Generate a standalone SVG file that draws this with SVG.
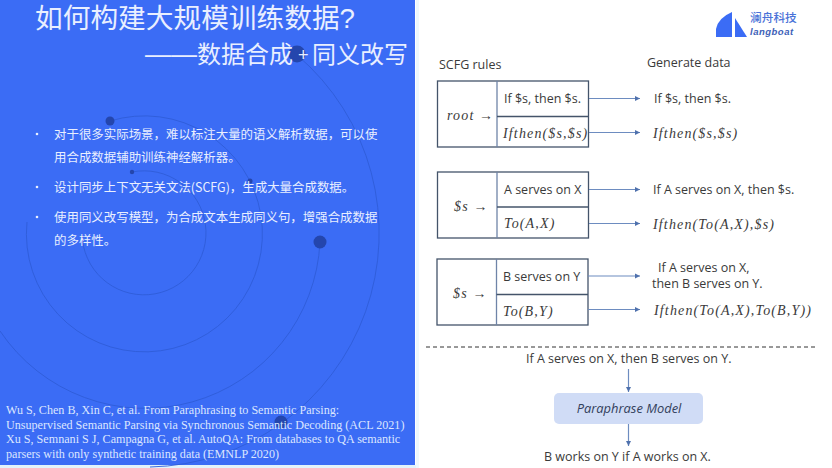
<svg xmlns="http://www.w3.org/2000/svg" width="832" height="468" viewBox="0 0 832 468">
<defs>
<marker id="ah" markerWidth="6" markerHeight="6" refX="5" refY="3" orient="auto" markerUnits="userSpaceOnUse"><path d="M0 0.5L5 3L0 5.5Z" fill="#4f71ad"/></marker>
</defs>
<style>
.cjk{font-family:"Noto Sans CJK SC","Noto Sans",sans-serif;fill:#e9efff}
.ttl{font-family:"Liberation Sans","Noto Sans CJK SC",sans-serif;fill:#e9efff}
.ref{font-family:"Liberation Serif",serif;font-size:12.12px;fill:#dbe6ff}
.t{font-family:"Open Sans","Noto Sans",sans-serif;font-size:12.5px;fill:#3a3a3a}
.m{font-family:"Liberation Serif",serif;font-style:italic;font-size:14px;fill:#3a3a3a;letter-spacing:1.15px}
.box{fill:none;stroke:#44546a;stroke-width:1.3}
.div{fill:none;stroke:#6f84a8;stroke-width:1.3}
.ln{fill:none;stroke:#6d8cc0;stroke-width:1.2;marker-end:url(#ah)}
.orb{fill:none;stroke:#2f5cd8;stroke-width:.9}
.dot{fill:#2446ad}
</style>
<rect width="832" height="468" fill="#fff"/>
<rect x="416" width="3" height="468" fill="#eef8fd"/>
<rect y="465" width="416" height="3" fill="#e3f3fb"/>
<rect width="415" height="465" fill="#3b6cf5"/>
<g id="orbits">
<path class="orb" d="M132 172A62 62 0 1 1 82 234"/>
<path class="orb" d="M110 121A118 118 0 1 1 27 222"/>
<path class="orb" d="M320 242A175 175 0 0 1 0 331"/>
<path class="orb" d="M297 55A234 234 0 0 1 150 467"/>
<circle class="dot" cx="132" cy="172" r="2.2"/>
<circle class="dot" cx="110" cy="121" r="4.5"/>
<circle class="dot" cx="250" cy="181" r="2.5"/>
<circle class="dot" cx="320" cy="242" r="6.5"/>
<circle class="dot" cx="297" cy="54" r="8.5"/>
<circle class="dot" cx="281" cy="422" r="6.5"/>
</g>
<g id="title">
<text class="ttl" x="35" y="28" font-size="27.7">如何构建大规模训练数据?</text>
<text class="ttl" font-size="24"><tspan x="145" y="63" font-size="26">——</tspan><tspan x="197" y="63">数据合成</tspan><tspan x="298" y="61" font-size="18">+</tspan><tspan x="312" y="63">同义改写</tspan></text>
</g>
<g id="bullets" font-size="12.45">
<circle cx="37" cy="134" r="1.3" fill="#e9efff"/>
<circle cx="37" cy="187" r="1.3" fill="#e9efff"/>
<circle cx="37" cy="217" r="1.3" fill="#e9efff"/>
<text class="cjk" x="54" y="139">对于很多实际场景，难以标注大量的语义解析数据，可以使</text>
<text class="cjk" x="54" y="162">用合成数据辅助训练神经解析器。</text>
<text class="cjk" x="54" y="192">设计同步上下文无关文法(SCFG)，生成大量合成数据。</text>
<text class="cjk" x="54" y="222">使用同义改写模型，为合成文本生成同义句，增强合成数据</text>
<text class="cjk" x="54" y="245">的多样性。</text>
</g>
<g id="references">
<text class="ref" x="6" y="414">Wu S, Chen B, Xin C, et al. From Paraphrasing to Semantic Parsing:</text>
<text class="ref" x="6" y="429">Unsupervised Semantic Parsing via Synchronous Semantic Decoding (ACL 2021)</text>
<text class="ref" x="6" y="443">Xu S, Semnani S J, Campagna G, et al. AutoQA: From databases to QA semantic</text>
<text class="ref" x="6" y="458">parsers with only synthetic training data (EMNLP 2020)</text>
</g>
<g id="logo">
<path d="M732 12V37H716V29Q718 18 732 12Z" fill="#3b6cf5"/>
<path d="M735 18L747 37H735Z" fill="#3b6cf5"/>
<text x="750" y="22" font-family="Noto Sans CJK SC,sans-serif" font-size="11.7" font-weight="500" fill="#4a72d8">澜舟科技</text>
<text x="750" y="35" font-family="Liberation Sans,sans-serif" font-size="9.5" font-weight="700" font-style="italic" fill="#3d5fb8" letter-spacing=".5">langboat</text>
</g>
<g id="headers">
<text class="t" x="439" y="69">SCFG rules</text>
<text class="t" x="647" y="67">Generate data</text>
</g>
<g id="rule-root">
<rect class="box" x="437.500" y="81" width="151" height="66"/>
<path class="div" d="M497 81V147"/>
<path class="box" d="M497 116.500H588.500"/>
<text class="m" x="447" y="120">root →</text>
<text class="t" x="504" y="103">If $s, then $s.</text>
<text class="m" x="503" y="138">Ifthen($s,$s)</text>
</g>
<g id="rule-s1">
<rect class="box" x="437.500" y="172" width="151" height="66"/>
<path class="div" d="M497 172V238"/>
<path class="box" d="M497 207H588.500"/>
<text class="m" x="454" y="211">$s →</text>
<text class="t" x="504" y="194">A serves on X</text>
<text class="m" x="504" y="228">To(A,X)</text>
</g>
<g id="rule-s2">
<rect class="box" x="437" y="259" width="151" height="66"/>
<path class="div" d="M496.500 259V325"/>
<path class="box" d="M496.500 294.500H588"/>
<text class="m" x="453" y="298">$s →</text>
<text class="t" x="503" y="281">B serves on Y</text>
<text class="m" x="503" y="316">To(B,Y)</text>
</g>
<g id="generated">
<text class="t" x="654" y="103">If $s, then $s.</text>
<text class="m" x="653" y="138">Ifthen($s,$s)</text>
<text class="t" x="653" y="194">If A serves on X, then $s.</text>
<text class="m" x="653" y="229">Ifthen(To(A,X),$s)</text>
<text class="t" x="658" y="272">If A serves on X,</text>
<text class="t" x="652" y="288">then B serves on Y.</text>
<text class="m" x="654" y="315">Ifthen(To(A,X),To(B,Y))</text>
</g>
<g id="paraphrase">
<rect x="554" y="393" width="149" height="31" rx="5" fill="#d0dcf6"/>
<text x="629" y="413" text-anchor="middle" font-family="Open Sans,Noto Sans,sans-serif" font-style="italic" font-size="12.900" fill="#33415c">Paraphrase Model</text>
</g>
<g id="sentences">
<text class="t" x="526" y="363">If A serves on X, then B serves on Y.</text>
<text class="t" x="544" y="461">B works on Y if A works on X.</text>
</g>
<g id="connectors">
<path class="ln" d="M589 98.500H640"/>
<path class="ln" d="M589 132.500H640"/>
<path class="ln" d="M589 189.500H640"/>
<path class="ln" d="M589 223.500H640"/>
<path class="ln" d="M588 276H640"/>
<path class="ln" d="M588 309.500H640"/>
<path d="M426 347H816" fill="none" stroke="#333" stroke-width="1" stroke-dasharray="4 3"/>
<path class="ln" d="M628.500 369V392"/>
<path class="ln" d="M628.500 424V446"/>
</g>
</svg>
